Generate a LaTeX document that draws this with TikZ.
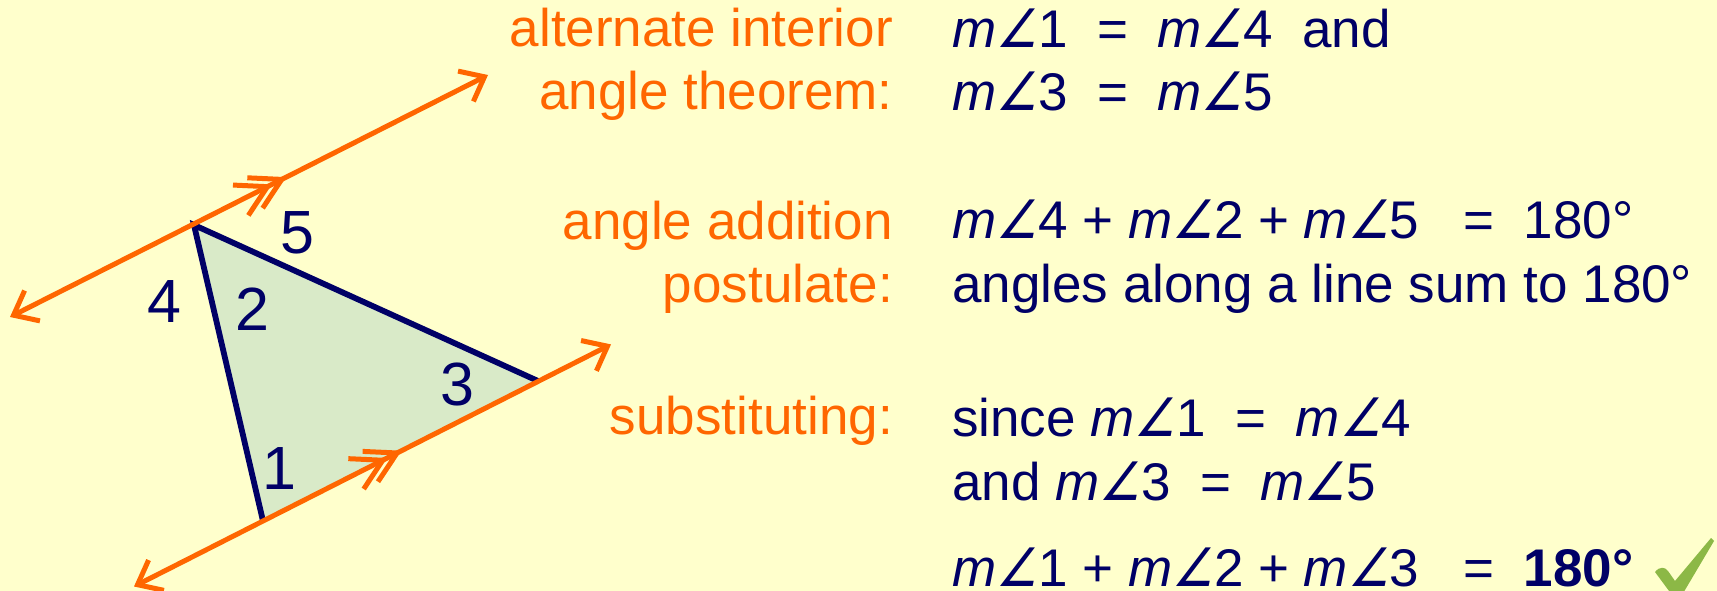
\documentclass[tikz,border=0pt]{standalone}
\usepackage{fontspec}
\setmainfont{Liberation Sans}
\newfontfamily\angfont[FakeSlant=0.2,FakeStretch=0.88]{DejaVu Sans}
\usetikzlibrary{arrows.meta,decorations.markings}
\definecolor{bg}{RGB}{255,255,204}
\definecolor{org}{RGB}{255,102,0}
\definecolor{navy}{RGB}{0,0,102}
\definecolor{trifill}{RGB}{217,234,200}
\definecolor{chk}{RGB}{140,184,70}
\newcommand{\mang}[1]{\textit{m}{\angfont ∠}#1}
\tikzset{
  chev/.tip={Straight Barb[length=21pt,width=34pt]},
  chevm/.tip={Straight Barb[length=30pt,width=34pt]},
  lbl/.style={text=org,font=\fontsize{53}{60}\selectfont,anchor=base east,inner sep=0},
  stmt/.style={text=navy,font=\fontsize{53}{60}\selectfont,anchor=base west,inner sep=0},
  num/.style={text=navy,font=\fontsize{61}{70}\selectfont,anchor=base,inner sep=0},
  pline/.style={draw=org,line width=5pt,line cap=round,{chev}-{chev}},
  mid/.style 2 args={decoration={markings,
      mark=at position #1 with {\arrow{chevm}},
      mark=at position #2 with {\arrow{chevm}}},
    postaction={decorate}},
  edge/.style={draw=navy,line width=5.8pt,line join=miter}
}
\begin{document}
\begin{tikzpicture}[x=1pt,y=-1pt]
\fill[bg] (0,0) rectangle (1717,591);
\useasboundingbox (0,0) rectangle (1717,591);
% points
\coordinate (T1) at (10,317);
\coordinate (T2) at (488,75);
\coordinate (B1) at (134,586.5);
\coordinate (B2) at (611,344.4);
\coordinate (A) at (194,225);
\coordinate (C) at (263,521);
\coordinate (R) at (538,381);
% triangle
\fill[trifill] (A) -- (C) -- (R) -- cycle;
\draw[edge] (C) -- (A) -- (R);
% parallel lines
\draw[pline,mid={0.548}{0.578}] (T1) -- (T2);
\draw[pline,mid={0.531}{0.561}] (B1) -- (B2);
% angle numbers
\node[num] (n5) at (297,253) {5};
\node[num] (n4) at (164,322) {4};
\node[num] (n2) at (252,330) {2};
\node[num] (n3) at (457,405) {3};
\node[num] (n1) at (279,489) {1};
% orange labels
\node[lbl] (l1) at (893,47) {alternate interior};
\node[lbl] (l2) at (893,110) {angle theorem:};
\node[lbl] (l3) at (893,239) {angle addition};
\node[lbl] (l4) at (893,302) {postulate:};
\node[lbl] (l5) at (893,434) {substituting:};
% statements
\node[stmt] (s1) at (952,48) {\mang1~~=~~\mang4~~and};
\node[stmt] (s2) at (952,111) {\mang3~~=~~\mang5};
\node[stmt] (s3) at (952,238) {\mang4 + \mang2 + \mang5~~~=~~180°};
\node[stmt] (s4) at (952,302) {angles along a line sum to 180°};
\node[stmt] (s5) at (952,436) {since \mang1~~=~~\mang4};
\node[stmt] (s6) at (952,500) {and \mang3~~=~~\mang5};
\node[stmt] (s7) at (952,586) {\mang1 + \mang2 + \mang3~~~=~~\textbf{180°}};
% check mark
\fill[chk] (1655,572) .. controls (1660,566) and (1665,567) .. (1668,571)
  -- (1675,581) -- (1711,538) -- (1714,541) -- (1682,595) -- (1672,595) -- cycle;
\end{tikzpicture}
\end{document}
